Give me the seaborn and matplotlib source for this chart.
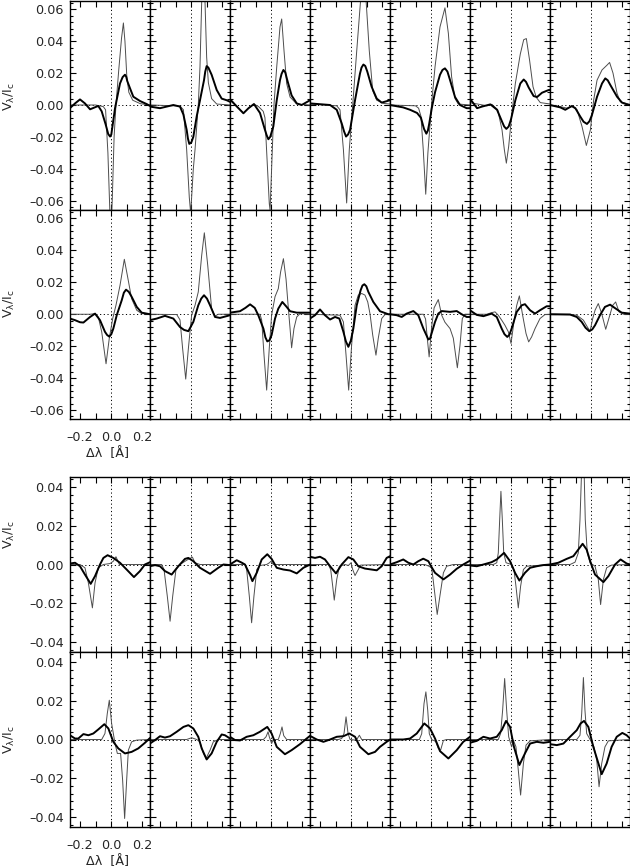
import pandas as pd
import seaborn as sns
import matplotlib.pyplot as plt
from matplotlib.ticker import FuncFormatter, MultipleLocator

# points (delta lambda [A], V/Ic), left to right
r1_thin = [
    [(-0.265, 0.0), (-0.1, 0.0), (-0.05, -0.001), (-0.035, -0.003), (-0.02, -0.03), (-0.008, -0.065), (0.0, -0.078),
     (0.008, -0.06), (0.02, -0.02), (0.032, 0.0), (0.05, 0.022), (0.068, 0.042), (0.08, 0.0515), (0.09, 0.04),
     (0.102, 0.018), (0.115, 0.008), (0.14, 0.003), (0.19, 0.0008), (0.252, 0.0)],
    [(-0.265, 0.0), (-0.071, -0.0006), (-0.049, -0.003), (-0.028, -0.028), (-0.011, -0.058), (-0.002, -0.068),
     (0.015, -0.04), (0.026, -0.028), (0.047, 0.0), (0.058, 0.024), (0.069, 0.065), (0.078, 0.08), (0.09, 0.066),
     (0.101, 0.03), (0.112, 0.014), (0.133, 0.004), (0.166, 0.0006), (0.252, 0.0)],
    [(-0.265, 0.003), (-0.22, -0.001), (-0.178, -0.005), (-0.145, -0.002), (-0.11, 0.0006), (-0.08, -0.001),
     (-0.05, -0.004), (-0.039, -0.008), (-0.025, -0.035), (-0.011, -0.062), (-0.006, -0.066), (0.004, -0.04),
     (0.019, 0.0), (0.037, 0.024), (0.058, 0.049), (0.069, 0.054), (0.084, 0.034), (0.101, 0.0135),
     (0.123, 0.005), (0.166, 0.0006), (0.252, 0.0)],
    [(-0.265, 0.0006), (-0.092, -0.0005), (-0.071, -0.003), (-0.049, -0.028), (-0.028, -0.0615), (-0.011, -0.028),
     (0.011, 0.0), (0.037, 0.034), (0.062, 0.066), (0.08, 0.072), (0.097, 0.066), (0.118, 0.034), (0.14, 0.009),
     (0.166, 0.003), (0.209, 0.001), (0.252, 0.0006)],
    [(-0.265, 0.0), (-0.1, -0.0005), (-0.08, -0.002), (-0.065, -0.007), (-0.05, -0.028), (-0.034, -0.056),
     (-0.02, -0.03), (0.004, 0.001), (0.026, 0.024), (0.058, 0.049), (0.09, 0.061), (0.112, 0.045),
     (0.133, 0.0177), (0.155, 0.004), (0.176, 0.0006), (0.252, 0.0)],
    [(-0.265, 0.0015), (-0.155, -0.0005), (-0.123, 0.0004), (-0.086, -0.003), (-0.058, -0.0156), (-0.043, -0.028),
     (-0.03, -0.0365), (-0.015, -0.026), (0.006, -0.005), (0.028, 0.0135), (0.06, 0.032), (0.082, 0.041),
     (0.099, 0.0417), (0.12, 0.028), (0.142, 0.0115), (0.163, 0.0048), (0.189, 0.0015), (0.254, 0.0006)],
    [(-0.265, 0.0), (-0.198, -0.001), (-0.155, -0.002), (-0.123, -0.001), (-0.09, -0.003), (-0.058, -0.0135),
     (-0.03, -0.0254), (-0.004, -0.0156), (0.017, 0.003), (0.039, 0.0156), (0.071, 0.022), (0.103, 0.025),
     (0.12, 0.0267), (0.142, 0.02), (0.168, 0.0073), (0.189, 0.002), (0.252, 0.0004)],
]
r1_thick = [
    [(-0.265, -0.002), (-0.232, 0.001), (-0.2, 0.0035), (-0.168, 0.001), (-0.135, -0.0027), (-0.105, -0.0015),
     (-0.082, -0.0006), (-0.06, -0.004), (-0.035, -0.012), (-0.018, -0.0182), (-0.006, -0.0198), (0.002, -0.0185),
     (0.01, -0.013), (0.026, -0.002), (0.058, 0.0135), (0.075, 0.0175), (0.09, 0.019), (0.098, 0.0178),
     (0.105, 0.015), (0.123, 0.0104), (0.144, 0.0052), (0.187, 0.0025), (0.23, 0.0006), (0.252, -0.0006)],
    [(-0.265, -0.001), (-0.2, -0.002), (-0.114, 0.0), (-0.071, -0.001), (-0.049, -0.006), (-0.028, -0.0156),
     (-0.02, -0.021), (-0.011, -0.0244), (0.002, -0.0235), (0.015, -0.02), (0.037, -0.007), (0.058, 0.003),
     (0.084, 0.0156), (0.092, 0.021), (0.101, 0.0244), (0.112, 0.0235), (0.133, 0.019), (0.166, 0.0094),
     (0.198, 0.004), (0.23, 0.003), (0.252, 0.002)],
    [(-0.265, 0.0037), (-0.22, -0.001), (-0.178, -0.0052), (-0.145, -0.002), (-0.11, 0.0006), (-0.071, -0.005),
     (-0.039, -0.0156), (-0.028, -0.019), (-0.017, -0.0215), (-0.005, -0.02), (0.015, -0.0135), (0.037, 0.003),
     (0.058, 0.0156), (0.068, 0.0195), (0.08, 0.022), (0.092, 0.0205), (0.105, 0.0156), (0.133, 0.006),
     (0.166, 0.001), (0.198, 0.0), (0.252, 0.003)],
    [(-0.265, 0.001), (-0.2, 0.0005), (-0.135, 0.0), (-0.092, -0.003), (-0.06, -0.0115), (-0.045, -0.0165),
     (-0.032, -0.0198), (-0.019, -0.0185), (-0.006, -0.0156), (0.026, 0.003), (0.058, 0.0198), (0.068, 0.0235),
     (0.08, 0.0254), (0.092, 0.0245), (0.105, 0.021), (0.133, 0.0115), (0.166, 0.004), (0.198, 0.0015),
     (0.252, 0.003)],
    [(-0.265, 0.0), (-0.18, -0.0015), (-0.135, -0.003), (-0.09, -0.005), (-0.065, -0.008), (-0.045, -0.015),
     (-0.03, -0.018), (-0.02, -0.016), (-0.012, -0.012), (0.005, -0.002), (0.026, 0.008), (0.058, 0.019),
     (0.074, 0.022), (0.09, 0.023), (0.106, 0.021), (0.123, 0.0156), (0.155, 0.005), (0.187, 0.0),
     (0.23, -0.002), (0.252, -0.002)],
    [(-0.265, 0.004), (-0.219, -0.002), (-0.187, -0.001), (-0.133, 0.0004), (-0.09, -0.003), (-0.058, -0.0104),
     (-0.044, -0.0135), (-0.03, -0.015), (-0.015, -0.0135), (0.0, -0.009), (0.028, 0.003), (0.06, 0.0135),
     (0.082, 0.016), (0.097, 0.0145), (0.114, 0.011), (0.146, 0.0056), (0.168, 0.005), (0.2, 0.0077),
     (0.243, 0.0094), (0.254, 0.0094)],
    [(-0.265, 0.0), (-0.198, -0.0015), (-0.166, -0.003), (-0.123, -0.0006), (-0.101, -0.002), (-0.069, -0.0073),
     (-0.048, -0.0105), (-0.026, -0.0119), (-0.01, -0.0102), (0.006, -0.0063), (0.039, 0.0052), (0.071, 0.0135),
     (0.092, 0.0167), (0.108, 0.0155), (0.125, 0.0125), (0.168, 0.0052), (0.2, 0.0015), (0.243, 0.0),
     (0.252, 0.0)],
]

r2_thin = [
    [(-0.265, 0.0), (-0.135, 0.0), (-0.103, 0.0004), (-0.082, -0.0017), (-0.06, -0.011), (-0.032, -0.031),
     (-0.011, -0.015), (0.011, -0.0027), (0.032, 0.0056), (0.058, 0.018), (0.086, 0.0344), (0.108, 0.023),
     (0.133, 0.0098), (0.166, 0.0025), (0.198, 0.0004), (0.252, 0.0)],
    [(-0.265, 0.0), (-0.092, -0.0002), (-0.071, -0.0035), (-0.054, -0.0215), (-0.034, -0.0406), (-0.017, -0.0215),
     (0.004, -0.0006), (0.026, 0.0056), (0.047, 0.014), (0.069, 0.0369), (0.086, 0.051), (0.108, 0.0306),
     (0.133, 0.0035), (0.155, -0.0012), (0.175, 0.0), (0.252, 0.0)],
    [(-0.265, 0.0), (-0.071, 0.0), (-0.06, -0.0037), (-0.045, -0.0256), (-0.028, -0.0475), (-0.011, -0.021),
     (0.004, -0.0006), (0.026, 0.011), (0.047, 0.016), (0.062, 0.0265), (0.08, 0.0348), (0.097, 0.022),
     (0.112, 0.0035), (0.123, -0.009), (0.133, -0.021), (0.148, -0.009), (0.166, -0.0017), (0.187, 0.0004),
     (0.252, 0.0)],
    [(-0.265, 0.0), (-0.071, -0.0006), (-0.049, -0.0048), (-0.032, -0.0256), (-0.015, -0.0475), (0.004, -0.0194),
     (0.026, 0.0056), (0.047, 0.012), (0.069, 0.013), (0.09, 0.012), (0.108, 0.0077), (0.123, 0.0),
     (0.14, -0.013), (0.161, -0.0256), (0.176, -0.015), (0.198, -0.0027), (0.219, -0.0002), (0.252, 0.0)],
    [(-0.265, 0.0), (-0.049, 0.0), (-0.035, -0.003), (-0.024, -0.015), (-0.012, -0.0267), (0.004, -0.008),
     (0.02, 0.004), (0.047, 0.0092), (0.069, -0.0006), (0.09, -0.005), (0.123, -0.009), (0.144, -0.015),
     (0.17, -0.0335), (0.187, -0.0195), (0.202, -0.0027), (0.219, 0.0), (0.252, 0.0)],
    [(-0.265, 0.0), (-0.157, 0.0), (-0.125, 0.001), (-0.103, 0.0015), (-0.082, -0.0006), (-0.06, -0.0037),
     (-0.039, -0.0069), (-0.017, -0.011), (0.0, -0.0183), (0.019, -0.0048), (0.037, 0.0056), (0.054, 0.0115),
     (0.075, -0.0006), (0.097, -0.0121), (0.114, -0.0173), (0.133, -0.0142), (0.155, -0.009), (0.187, -0.0027),
     (0.219, -0.0002), (0.252, 0.0)],
    [(-0.265, 0.0), (-0.135, 0.0), (-0.092, -0.0006), (-0.049, -0.0037), (-0.024, -0.0079), (-0.006, -0.0106),
     (0.011, -0.0027), (0.026, 0.0025), (0.047, 0.0067), (0.069, 0.0004), (0.095, -0.0094), (0.118, -0.0017),
     (0.14, 0.0056), (0.159, 0.0077), (0.181, 0.0015), (0.209, 0.0), (0.252, 0.0)],
]
r2_thick = [
    [(-0.265, -0.0027), (-0.232, -0.0037), (-0.2, -0.005), (-0.178, -0.0052), (-0.135, -0.0017), (-0.103, 0.0004),
     (-0.071, -0.0037), (-0.039, -0.011), (-0.025, -0.013), (-0.011, -0.014), (0.002, -0.0125), (0.015, -0.009),
     (0.037, -0.0006), (0.069, 0.0087), (0.083, 0.0135), (0.097, 0.0154), (0.115, 0.014), (0.133, 0.011),
     (0.166, 0.0046), (0.198, 0.001), (0.252, 0.0)],
    [(-0.265, -0.0037), (-0.221, -0.0027), (-0.168, -0.001), (-0.114, -0.0027), (-0.071, -0.008), (-0.045, -0.0098),
     (-0.017, -0.0106), (0.015, -0.0048), (0.047, 0.0056), (0.066, 0.0098), (0.084, 0.0119), (0.103, 0.0098),
     (0.123, 0.0056), (0.155, -0.0017), (0.187, -0.0023), (0.252, -0.0006)],
    [(-0.265, 0.001), (-0.2, 0.0019), (-0.165, 0.004), (-0.135, 0.0062), (-0.105, 0.004), (-0.082, -0.0006),
     (-0.049, -0.009), (-0.036, -0.0145), (-0.024, -0.017), (-0.01, -0.0163), (0.004, -0.013), (0.026, -0.0027),
     (0.047, 0.0035), (0.073, 0.0077), (0.101, 0.0046), (0.123, 0.0019), (0.166, 0.001), (0.252, 0.001)],
    [(-0.265, -0.0027), (-0.232, -0.0006), (-0.2, 0.003), (-0.168, -0.0006), (-0.135, -0.0033), (-0.103, -0.0017),
     (-0.075, -0.0027), (-0.049, -0.011), (-0.033, -0.017), (-0.017, -0.0204), (-0.001, -0.0165), (0.015, -0.009),
     (0.037, 0.0056), (0.062, 0.015), (0.074, 0.018), (0.086, 0.0188), (0.099, 0.0175), (0.112, 0.014),
     (0.144, 0.0077), (0.187, 0.0019), (0.241, 0.0), (0.252, 0.0)],
    [(-0.265, 0.0), (-0.221, -0.0006), (-0.189, -0.0017), (-0.157, 0.0004), (-0.114, 0.002), (-0.082, -0.0006),
     (-0.049, -0.009), (-0.017, -0.0158), (-0.006, -0.0152), (0.026, -0.0048), (0.047, 0.0004), (0.069, 0.002),
     (0.123, 0.0015), (0.166, 0.002), (0.198, 0.0), (0.23, -0.0017), (0.252, -0.0017)],
    [(-0.265, 0.0025), (-0.221, -0.0004), (-0.178, -0.0012), (-0.125, 0.0004), (-0.092, -0.0017), (-0.06, -0.009),
     (-0.042, -0.0125), (-0.024, -0.0142), (-0.01, -0.0128), (0.004, -0.009), (0.037, 0.0015), (0.069, 0.0056),
     (0.09, 0.0063), (0.123, 0.0025), (0.155, 0.0004), (0.187, 0.0025), (0.23, 0.005), (0.252, 0.005)],
    [(-0.265, 0.0), (-0.135, -0.0002), (-0.092, -0.0017), (-0.06, -0.0048), (-0.035, -0.0085), (-0.011, -0.0106),
     (0.008, -0.0095), (0.026, -0.0069), (0.058, -0.0006), (0.09, 0.0046), (0.123, 0.006), (0.166, 0.0031),
     (0.198, 0.001), (0.252, 0.0004)],
]

r3_thin = [
    [(-0.265, 0.0), (-0.2, 0.0), (-0.168, -0.0017), (-0.146, -0.0095), (-0.12, -0.0224), (-0.103, -0.0095),
     (-0.082, -0.0017), (-0.049, 0.0), (-0.006, 0.0005), (0.015, 0.0017), (0.032, 0.004), (0.054, 0.0),
     (0.252, 0.0)],
    [(-0.265, 0.0), (-0.189, 0.0), (-0.174, -0.0026), (-0.153, -0.0163), (-0.135, -0.0293), (-0.118, -0.0163),
     (-0.097, -0.0026), (-0.071, 0.0), (-0.028, 0.0022), (0.009, 0.0038), (0.026, 0.0009), (0.058, 0.0),
     (0.252, 0.0)],
    [(-0.265, 0.0), (-0.168, 0.0), (-0.157, -0.0026), (-0.14, -0.0163), (-0.125, -0.0301), (-0.11, -0.0163),
     (-0.092, -0.0026), (-0.071, -0.0005), (-0.028, 0.0), (-0.01, 0.0009), (0.0, 0.0017), (0.015, 0.0),
     (0.252, 0.0)],
    [(-0.265, 0.0), (-0.146, 0.0), (-0.131, -0.0026), (-0.118, -0.0112), (-0.108, -0.0184), (-0.092, -0.0077),
     (-0.075, -0.0009), (-0.039, 0.0), (-0.017, -0.0005), (0.0, 0.0009), (0.011, -0.0026), (0.026, -0.0057),
     (0.047, -0.0026), (0.062, -0.0003), (0.252, 0.0)],
    [(-0.265, 0.0), (-0.04, 0.0), (-0.01, -0.001), (0.005, -0.002), (0.02, -0.012), (0.04, -0.0258),
     (0.058, -0.016), (0.08, -0.0043), (0.101, -0.0009), (0.144, 0.0), (0.252, 0.0)],
    [(-0.265, 0.0), (-0.114, 0.0), (-0.092, 0.0009), (-0.082, 0.006), (-0.073, 0.0232), (-0.065, 0.0378),
     (-0.056, 0.0232), (-0.047, 0.006), (-0.032, 0.0009), (0.004, 0.0), (0.019, -0.0026), (0.032, -0.0112),
     (0.047, -0.0224), (0.062, -0.0112), (0.08, -0.0026), (0.101, -0.0009), (0.252, 0.0)],
    [(-0.265, 0.0), (-0.135, 0.0), (-0.103, 0.0012), (-0.082, 0.006), (-0.071, 0.0232), (-0.06, 0.05),
     (-0.054, 0.056), (-0.045, 0.05), (-0.037, 0.0232), (-0.024, 0.006), (-0.006, 0.0009), (0.026, -0.0009),
     (0.047, -0.0077), (0.062, -0.0207), (0.08, -0.0077), (0.101, -0.0017), (0.133, -0.0003), (0.252, 0.0)],
]
r3_thick = [
    [(-0.265, 0.0005), (-0.232, 0.0009), (-0.2, -0.0009), (-0.168, -0.0052), (-0.131, -0.01), (-0.103, -0.006),
     (-0.071, 0.0), (-0.049, 0.0034), (-0.022, 0.0048), (0.015, 0.0034), (0.058, 0.0009), (0.101, -0.0026),
     (0.148, -0.0065), (0.187, -0.0034), (0.219, 0.0), (0.252, 0.0012)],
    [(-0.265, -0.0009), (-0.232, -0.0003), (-0.2, -0.0009), (-0.168, -0.0034), (-0.125, -0.0052), (-0.082, -0.0009),
     (-0.039, 0.0029), (-0.017, 0.0034), (0.015, 0.0017), (0.058, -0.0017), (0.123, -0.0048), (0.176, -0.0017),
     (0.209, 0.0), (0.252, -0.0003)],
    [(-0.265, 0.0), (-0.221, 0.0022), (-0.19, 0.001), (-0.168, 0.0), (-0.135, -0.0055), (-0.12, -0.0086),
     (-0.092, -0.0043), (-0.06, 0.0026), (-0.024, 0.0053), (0.004, 0.0029), (0.037, -0.0017), (0.08, -0.0026),
     (0.123, -0.0031), (0.166, -0.0046), (0.209, -0.0017), (0.252, 0.0)],
    [(-0.265, 0.004), (-0.232, 0.0034), (-0.2, 0.004), (-0.168, 0.0026), (-0.135, -0.0009), (-0.097, -0.0046),
     (-0.06, 0.0), (-0.017, 0.0038), (0.015, 0.0026), (0.047, -0.0009), (0.09, -0.0021), (0.133, -0.0026),
     (0.166, -0.003), (0.198, -0.0009), (0.23, 0.0034), (0.252, 0.0043)],
    [(-0.265, 0.0), (-0.221, 0.0012), (-0.179, 0.0026), (-0.146, 0.0009), (-0.114, 0.0), (-0.082, 0.0017),
     (-0.05, 0.003), (-0.017, 0.0017), (0.005, -0.0015), (0.026, -0.0043), (0.08, -0.0077), (0.123, -0.0052),
     (0.166, -0.0022), (0.208, 0.0), (0.252, 0.002)],
    [(-0.265, -0.0005), (-0.221, -0.0009), (-0.178, 0.0), (-0.125, 0.0012), (-0.092, 0.0026), (-0.045, 0.006),
     (-0.006, 0.0017), (0.026, -0.0043), (0.054, -0.0083), (0.09, -0.0043), (0.123, -0.0017), (0.166, -0.0009),
     (0.209, -0.0003), (0.252, 0.0)],
    [(-0.265, 0.0), (-0.211, 0.0009), (-0.157, 0.0029), (-0.114, 0.0043), (-0.082, 0.0077), (-0.054, 0.0107),
     (-0.028, 0.0077), (-0.002, 0.0009), (0.026, -0.0052), (0.08, -0.0091), (0.112, -0.006), (0.155, 0.0),
     (0.191, 0.0026), (0.23, 0.0005), (0.252, 0.0)],
]

r4_thin = [
    [(-0.265, 0.0), (-0.06, 0.0), (-0.039, 0.0031), (-0.024, 0.0134), (-0.011, 0.0203), (0.004, 0.0083),
     (0.026, -0.0021), (0.041, -0.0072), (0.062, -0.0072), (0.075, -0.021), (0.088, -0.0408), (0.101, -0.021),
     (0.112, -0.0055), (0.133, -0.0012), (0.166, -0.0003), (0.252, 0.0)],
    [(-0.265, 0.0), (-0.028, 0.0), (0.004, 0.0009), (0.037, 0.0), (0.058, -0.0012), (0.08, -0.0072),
     (0.097, -0.0098), (0.123, -0.0055), (0.144, -0.0012), (0.176, 0.0), (0.252, 0.0)],
    [(-0.265, 0.0), (-0.049, 0.0), (-0.032, 0.0014), (-0.019, 0.004), (-0.011, 0.0014), (0.004, -0.0021),
     (0.015, 0.0), (0.047, 0.0), (0.06, 0.003), (0.071, 0.0065), (0.082, 0.002), (0.101, 0.0), (0.252, 0.0)],
    [(-0.265, 0.0), (-0.082, 0.0), (-0.06, 0.0005), (-0.045, 0.0031), (-0.032, 0.0117), (-0.019, 0.0031),
     (-0.006, 0.0), (0.026, -0.0003), (0.041, 0.0005), (0.054, 0.0022), (0.069, 0.0), (0.252, 0.0)],
    [(-0.265, 0.0), (-0.075, 0.0), (-0.06, 0.003), (-0.045, 0.0186), (-0.033, 0.0246), (-0.021, 0.015),
     (-0.011, 0.003), (0.004, 0.0), (0.03, -0.001), (0.047, -0.0046), (0.062, -0.0055), (0.08, -0.0005),
     (0.1, 0.0), (0.252, 0.0)],
    [(-0.265, 0.0), (-0.082, 0.0), (-0.067, 0.0031), (-0.054, 0.0151), (-0.041, 0.0315), (-0.028, 0.0151),
     (-0.015, 0.0014), (0.004, -0.0038), (0.015, -0.0003), (0.032, -0.0038), (0.047, -0.0158), (0.062, -0.0287),
     (0.08, -0.0124), (0.097, -0.0029), (0.123, -0.0007), (0.252, 0.0)],
    [(-0.265, 0.0), (-0.092, 0.0), (-0.071, 0.0022), (-0.06, 0.0134), (-0.049, 0.032), (-0.039, 0.0151),
     (-0.028, 0.0031), (-0.006, 0.0), (0.019, -0.0038), (0.037, -0.0106), (0.052, -0.0244), (0.069, -0.0124),
     (0.09, -0.0038), (0.112, -0.0007), (0.252, 0.0)],
]
r4_thick = [
    [(-0.265, 0.0022), (-0.232, 0.0005), (-0.211, 0.0005), (-0.178, 0.0028), (-0.146, 0.0022), (-0.114, 0.0031),
     (-0.082, 0.0052), (-0.043, 0.0079), (-0.017, 0.0057), (0.015, -0.0012), (0.047, -0.0046), (0.09, -0.0072),
     (0.133, -0.0064), (0.176, -0.0046), (0.219, -0.0017), (0.252, 0.0008)],
    [(-0.265, -0.0021), (-0.232, -0.0003), (-0.2, 0.0017), (-0.168, 0.001), (-0.135, 0.0017), (-0.092, 0.004),
     (-0.049, 0.0065), (-0.017, 0.0074), (0.015, 0.0057), (0.047, 0.0014), (0.069, -0.0046), (0.101, -0.0103),
     (0.133, -0.0072), (0.166, -0.0012), (0.198, 0.0026), (0.219, 0.0022), (0.252, 0.0005)],
    [(-0.265, 0.0014), (-0.232, -0.0003), (-0.2, -0.0005), (-0.157, 0.0014), (-0.114, 0.0022), (-0.071, 0.004),
     (-0.024, 0.0065), (0.004, 0.0031), (0.037, -0.0038), (0.09, -0.0076), (0.133, -0.0055), (0.187, -0.0024),
     (0.23, 0.0005), (0.252, 0.0019)],
    [(-0.265, 0.0019), (-0.221, 0.0), (-0.178, -0.0012), (-0.135, 0.0), (-0.092, 0.0014), (-0.049, 0.0017),
     (-0.011, 0.0031), (0.026, 0.0014), (0.058, -0.0038), (0.112, -0.0076), (0.155, -0.0064), (0.187, -0.0038),
     (0.23, -0.0012), (0.252, 0.0)],
    [(-0.265, 0.0), (-0.179, 0.0), (-0.135, 0.0005), (-0.092, 0.0031), (-0.043, 0.0083), (-0.006, 0.0057),
     (0.026, 0.0005), (0.058, -0.006), (0.112, -0.0098), (0.166, -0.0055), (0.208, -0.0012), (0.252, 0.0014)],
    [(-0.265, -0.0017), (-0.221, -0.0007), (-0.178, 0.0014), (-0.135, 0.0005), (-0.092, 0.0014), (-0.06, 0.0048),
     (-0.032, 0.0096), (-0.006, 0.0065), (0.019, -0.0038), (0.054, -0.0132), (0.09, -0.0072), (0.123, -0.0021),
     (0.166, -0.0012), (0.209, -0.0017), (0.252, -0.0012)],
    [(-0.265, -0.0024), (-0.221, -0.0029), (-0.178, -0.0021), (-0.135, 0.0014), (-0.092, 0.0048), (-0.067, 0.0083),
     (-0.045, 0.0096), (-0.017, 0.0065), (0.015, -0.0038), (0.069, -0.0179), (0.101, -0.0124), (0.133, -0.0038),
     (0.166, 0.0014), (0.202, 0.0034), (0.23, 0.0022), (0.252, 0.0005)],
]

xticks = [-0.2, 0.0, 0.2]
yticks_top = [-0.06, -0.04, -0.02, 0.0, 0.02, 0.04, 0.06]
yticks_bot = [-0.04, -0.02, 0.0, 0.02, 0.04]

sns.set_style("ticks")
plt.rcParams["font.family"] = ["DejaVu Sans"]

W, H = 630, 868
fig = plt.figure(figsize=(W / 100, H / 100), dpi=100)

# pixel layout: (top, bottom) of each row, ylim, yticks, ylabel centre
rows = [
    (r1_thin, r1_thick, 0.5, 209.5, 0.0656, yticks_top, 96, False),
    (r2_thin, r2_thick, 209.5, 419.0, 0.0656, yticks_top, 303, True),
    (r3_thin, r3_thick, 477.0, 652.0, 0.0452, yticks_bot, 534, False),
    (r4_thin, r4_thick, 652.0, 827.0, 0.0452, yticks_bot, 739, True),
]

fmt_x = FuncFormatter(lambda v, p: f"{v:.1f}".replace("-", "\u2013"))
fmt_y = FuncFormatter(lambda v, p: f"{v:.2f}".replace("-", "\u2013"))


def draw(ax, pts, lw, color):
    d = pd.DataFrame(pts, columns=["dl", "v"])
    sns.lineplot(data=d, x="dl", y="v", ax=ax, color=color, linewidth=lw,
                 sort=False, estimator=None)


for thin, thick, top, bot, ylim, yt, ylab_y, xlab in rows:
    for c in range(7):
        left = 70 + 80 * c
        ax = fig.add_axes([left / W, 1 - bot / H, 80 / W, (bot - top) / H])
        ax.axhline(0, color="k", lw=0.7, ls=(0, (1.2, 2.6)), zorder=1)
        ax.axvline(0, color="k", lw=0.7, ls=(0, (1.2, 2.6)), zorder=1)
        draw(ax, thin[c], 0.7, "0.3")
        draw(ax, thick[c], 1.4, "black")
        ax.set_xlim(-41 / 155, 39 / 155)
        ax.set_ylim(-ylim, ylim)
        ax.set_xlabel("")
        ax.set_ylabel("")
        ax.set_xticks(xticks)
        ax.xaxis.set_minor_locator(MultipleLocator(0.1))
        ax.set_yticks(yt)
        ax.yaxis.set_minor_locator(MultipleLocator(0.004))
        ax.xaxis.set_major_formatter(fmt_x)
        ax.yaxis.set_major_formatter(fmt_y)
        ax.tick_params(which="both", direction="in", top=True, right=True,
                       width=0.8, color="k", labelsize=9.2)
        ax.tick_params(which="major", length=4.5)
        ax.tick_params(axis="y", which="minor", length=2.5)
        ax.tick_params(axis="x", which="minor", length=4.5)
        ax.tick_params(axis="y", pad=4.5)
        ax.tick_params(axis="x", pad=8.5)
        for s in ax.spines.values():
            s.set_linewidth(1.0)
            s.set_color("k")
        ax.tick_params(labelleft=(c == 0), labelbottom=(c == 0 and xlab))
    fig.text(9 / W, 1 - ylab_y / H, r"V$_\mathregular{λ}$/I$_\mathregular{c}$", rotation=90,
             ha="center", va="center", fontsize=9.2)
    if xlab:
        fig.text(108 / W, 1 - (bot + 35) / H, "Δλ  [Å]", ha="center", va="center", fontsize=9.2)

fig.savefig("out.png", dpi=100, facecolor="white")
